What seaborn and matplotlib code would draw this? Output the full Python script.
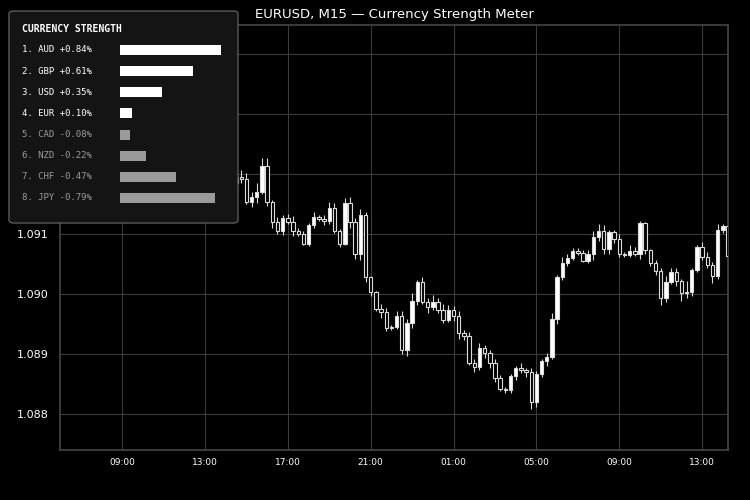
import matplotlib
matplotlib.use("Agg")
import matplotlib.pyplot as plt
from matplotlib.patches import FancyBboxPatch
import numpy as np
import pandas as pd
import seaborn as sns

# EURUSD M15 closes, 06:00 -> 14:15 next day (first candles sit under the panel)
closes = [
    1.09220, 1.09235, 1.09228, 1.09250, 1.09262, 1.09248, 1.09270, 1.09285, 1.09276, 1.09290,
    1.09305, 1.09295, 1.09280, 1.09298, 1.09312, 1.09300, 1.09288, 1.09270, 1.09282, 1.09265,
    1.09250, 1.09262, 1.09245, 1.09230, 1.09240, 1.09222, 1.09210, 1.09225, 1.09215, 1.09200,
    1.09212, 1.09190, 1.09205, 1.09185, 1.09195,
    1.09192, 1.09153, 1.09162, 1.09170, 1.09213, 1.09153, 1.09120, 1.09105, 1.09127, 1.09120,
    1.09105, 1.09100, 1.09083, 1.09115, 1.09128, 1.09125, 1.09122, 1.09143, 1.09105, 1.09083,
    1.09152, 1.09120, 1.09067, 1.09132, 1.09028, 1.09003, 1.08975, 1.08970, 1.08943, 1.08945,
    1.08963, 1.08907, 1.08952, 1.08988, 1.09020, 1.08987, 1.08978, 1.08987, 1.08973, 1.08957,
    1.08973, 1.08963, 1.08935, 1.08930, 1.08885, 1.08878, 1.08910, 1.08902, 1.08885, 1.08860,
    1.08842, 1.08840, 1.08863, 1.08877, 1.08873, 1.08870, 1.08820, 1.08867, 1.08888, 1.08895,
    1.08958, 1.09028, 1.09052, 1.09060, 1.09072, 1.09068, 1.09055, 1.09067, 1.09095, 1.09105,
    1.09075, 1.09103, 1.09092, 1.09067, 1.09065, 1.09072, 1.09067, 1.09118, 1.09073, 1.09052,
    1.09038, 1.08993, 1.09020, 1.09037, 1.09022, 1.09002, 1.09003, 1.09040, 1.09078, 1.09062,
    1.09048, 1.09030, 1.09107, 1.09113, 1.09063,
]
first_open = 1.09210
# wick lengths in pips beyond the body
wick_up = [
    0.6, 0.8, 0.5, 1.0, 0.7, 0.6, 0.9, 0.8, 0.5, 0.7, 1.0, 0.6, 0.5, 0.9, 0.8, 0.6, 0.5, 0.7, 0.6, 0.8,
    0.5, 0.9, 0.6, 0.7, 0.8, 0.5, 0.6, 0.9, 0.7, 0.6, 0.8, 0.5, 0.7, 0.6, 0.8,
    1.2, 1.0, 0.8, 1.5, 1.3, 1.3, 0.4, 0.8, 0.5, 0.6, 0.9, 0.4, 0.5, 0.3, 0.8, 0.4, 0.6, 1.0, 0.9, 0.3,
    0.7, 1.0, 0.6, 1.0, 0.5, 0.2, 0.2, 0.8, 0.6, 0.4, 0.9, 0.8, 0.7, 1.4, 0.4, 0.9, 0.6, 1.1, 0.7, 1.0,
    0.8, 0.7, 0.9, 0.5, 0.7, 0.6, 0.8, 0.5, 0.4, 0.6, 0.5, 0.3, 0.3, 0.3, 0.8, 0.3, 0.7, 0.5, 0.4, 0.7,
    1.0, 0.4, 1.0, 0.6, 0.4, 0.4, 0.6, 0.6, 1.0, 1.2, 0.9, 0.4, 0.4, 0.8, 0.3, 0.9, 0.6, 0.4, 0.2, 0.2,
    0.4, 0.6, 1.0, 0.6, 0.6, 0.3, 1.8, 0.3, 0.4, 0.8, 0.8, 0.5, 1.0, 0.4, 0.4,
]
wick_dn = [
    0.5, 0.7, 0.6, 0.5, 0.8, 0.6, 0.5, 0.7, 0.6, 0.9, 0.5, 0.7, 0.6, 0.5, 0.8, 0.6, 0.7, 0.5, 0.6, 0.8,
    0.7, 0.5, 0.6, 0.9, 0.5, 0.7, 0.6, 0.5, 0.8, 0.6, 0.5, 0.7, 0.6, 0.5, 0.6,
    0.8, 0.4, 0.8, 1.0, 0.4, 0.6, 1.0, 0.6, 0.7, 0.3, 0.8, 0.3, 0.2, 0.3, 0.6, 0.4, 0.7, 0.6, 0.3, 0.5,
    0.2, 1.1, 0.8, 1.0, 0.8, 0.7, 0.4, 1.0, 0.5, 0.3, 0.4, 0.7, 1.0, 0.8, 0.7, 0.4, 1.0, 0.5, 0.4, 0.5,
    0.4, 0.8, 1.0, 0.7, 0.4, 0.8, 0.4, 0.9, 0.8, 0.6, 0.4, 0.5, 0.5, 0.6, 0.5, 0.9, 1.2, 0.8, 0.5, 0.8,
    0.4, 0.8, 0.4, 0.6, 0.4, 0.3, 0.2, 0.4, 1.0, 0.7, 0.8, 0.8, 0.7, 0.5, 0.3, 0.4, 0.3, 0.8, 0.6, 0.6,
    0.6, 1.1, 0.6, 0.3, 0.8, 1.3, 0.8, 0.6, 0.3, 0.6, 0.4, 1.1, 0.5, 0.5, 0.6,
]
x_tick_pos = [12, 28, 44, 60, 76, 92, 108, 124]
x_tick_labels = ["09:00", "13:00", "17:00", "21:00", "01:00", "05:00", "09:00", "13:00"]
y_tick_pos = [1.088, 1.089, 1.090, 1.091, 1.092, 1.093, 1.094]
y_tick_labels = ["1.088", "1.089", "1.090", "1.091", "", "", ""]  # upper ones sit under the panel

currencies = ["AUD", "GBP", "USD", "EUR", "CAD", "NZD", "CHF", "JPY"]
strength = [0.84, 0.61, 0.35, 0.10, -0.08, -0.22, -0.47, -0.79]

opens = [first_open] + closes[:-1]
df = pd.DataFrame({"open": opens, "close": closes, "wu": wick_up, "wd": wick_dn})
df["i"] = np.arange(len(df))
df["top"] = df[["open", "close"]].max(axis=1)
df["bot"] = df[["open", "close"]].min(axis=1)
df["high"] = df["top"] + df["wu"] * 1e-4
df["low"] = df["bot"] - df["wd"] * 1e-4
df["up"] = df["close"] >= df["open"]

sns.set_theme(style="dark")
plt.rcParams["font.family"] = ["DejaVu Sans"]

fig = plt.figure(figsize=(7.5, 5), dpi=100, facecolor="black")
ax = fig.add_axes([0.08, 0.1, 0.8907, 0.85])
ax.set_facecolor("black")

ax.vlines(df["i"], df["low"], df["high"], color="#d8d8d8", lw=0.8, zorder=2)
body_h = (df["top"] - df["bot"]).clip(lower=0.000012)
ax.bar(df["i"], body_h, bottom=df["bot"], width=0.66,
       color=np.where(df["up"], "white", "black"), edgecolor="#dcdcdc", lw=0.8, zorder=3)

ax.set_xlim(0, 129)
ax.set_ylim(1.0874, 1.09448)
ax.set_xticks(x_tick_pos)
ax.set_xticklabels(x_tick_labels)
ax.set_yticks(y_tick_pos)
ax.set_yticklabels(y_tick_labels)
ax.tick_params(axis="x", colors="white", labelsize=6.5, length=0, pad=6)
ax.tick_params(axis="y", colors="white", labelsize=8, length=0, pad=8)
ax.grid(True, color="#3a3a3a", lw=0.8)
for s in ax.spines.values():
    s.set_color("#444444")
ax.set_title("EURUSD, M15 — Currency Strength Meter", color="white", fontsize=9.5, pad=5)

# strength panel
panel = FancyBboxPatch((9 / 750, 1 - 223 / 500), 229 / 750, 212 / 500,
                       boxstyle="round,pad=0,rounding_size=0.006",
                       transform=fig.transFigure, facecolor="#141414",
                       edgecolor="#5a5a5a", lw=1, zorder=5)
fig.patches.append(panel)
fig.text(22 / 750, 1 - 29 / 500, "CURRENCY STRENGTH", color="white", fontsize=7,
         fontweight="bold", family="DejaVu Sans Mono", va="center", zorder=6)

bax = fig.add_axes([120 / 750, 1 - 208.6 / 500, 120 / 750, 169.2 / 500], zorder=6)
bax.patch.set_alpha(0)
sdf = pd.DataFrame({"cur": currencies, "mag": np.abs(strength),
                    "col": ["white" if v > 0 else "#9a9a9a" for v in strength]})
sns.barplot(data=sdf, x="mag", y="cur", hue="cur", palette=list(sdf["col"]),
            orient="h", width=0.47, legend=False, ax=bax, saturation=1, linewidth=0)
bax.set_xlim(0, 1)
bax.set_ylim(7.5, -0.5)
bax.set_xlabel("")
bax.set_ylabel("")
bax.axis("off")
for k, (c, v) in enumerate(zip(currencies, strength)):
    yy = 1 - (50 + k * 21.1) / 500
    fig.text(22 / 750, yy, f"{k + 1}. {c} {v:+.2f}%", color="white" if v > 0 else "#9a9a9a",
             fontsize=6.5, family="DejaVu Sans Mono", va="center", zorder=7)

fig.savefig("out.png", dpi=100, facecolor="black")
